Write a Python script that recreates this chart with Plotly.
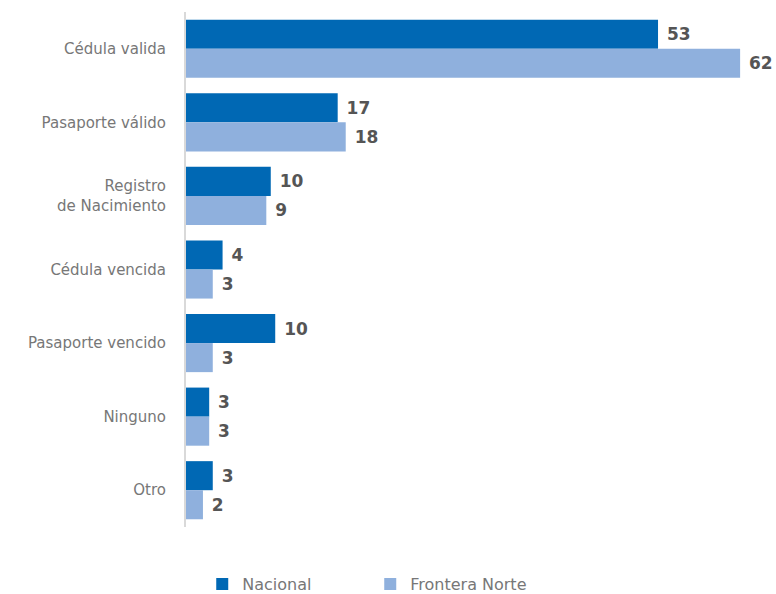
import plotly.graph_objects as go

categories = ["Cédula valida", "Pasaporte válido", "Registro<br>de Nacimiento", "Cédula vencida",
              "Pasaporte vencido", "Ninguno", "Otro"]
nacional = [52.9, 17.0, 9.5, 4.1, 10.0, 2.6, 3.0]
frontera_norte = [62.1, 17.9, 9.0, 3.0, 3.0, 2.6, 1.9]

label_font = dict(family="DejaVu Sans", size=17, color="#555555", weight="bold")

fig = go.Figure()
fig.add_trace(go.Bar(
    y=categories, x=nacional, orientation="h", name="Nacional",
    marker=dict(color="#0068b4", line=dict(width=0)),
    texttemplate=" %{x:.0f}", textposition="outside", cliponaxis=False,
    textfont=label_font,
))
fig.add_trace(go.Bar(
    y=categories, x=frontera_norte, orientation="h", name="Frontera Norte",
    marker=dict(color="#8fb0dd", line=dict(width=0)),
    texttemplate=" %{x:.0f}", textposition="outside", cliponaxis=False,
    textfont=label_font,
))

fig.update_layout(
    width=776, height=594,
    margin=dict(l=186, r=10, t=12, b=67, autoexpand=False),
    paper_bgcolor="white", plot_bgcolor="white",
    barmode="group", bargap=0.21, bargroupgap=0,
    font=dict(family="DejaVu Sans", size=15, color="#777777"),
    showlegend=True,
    legend=dict(orientation="h", xref="paper", yref="paper",
                x=0.028, y=-0.1107, xanchor="left", yanchor="middle",
                entrywidth=123, entrywidthmode="pixels",
                font=dict(family="DejaVu Sans", size=16, color="#777777")),
)
fig.update_xaxes(range=[0, 65], showgrid=False, zeroline=False, showticklabels=False,
                 showline=False, ticks="")
fig.update_yaxes(autorange="reversed", showgrid=False, zeroline=False,
                 showline=True, linecolor="#d9d9d9", linewidth=2, ticks="",
                 ticklabelstandoff=15,
                 tickfont=dict(family="DejaVu Sans", size=15, color="#777777"))

fig.write_html("out.html", config={"displayModeBar": False},
               post_script="document.body.style.margin='0';document.body.style.overflow='hidden';")
